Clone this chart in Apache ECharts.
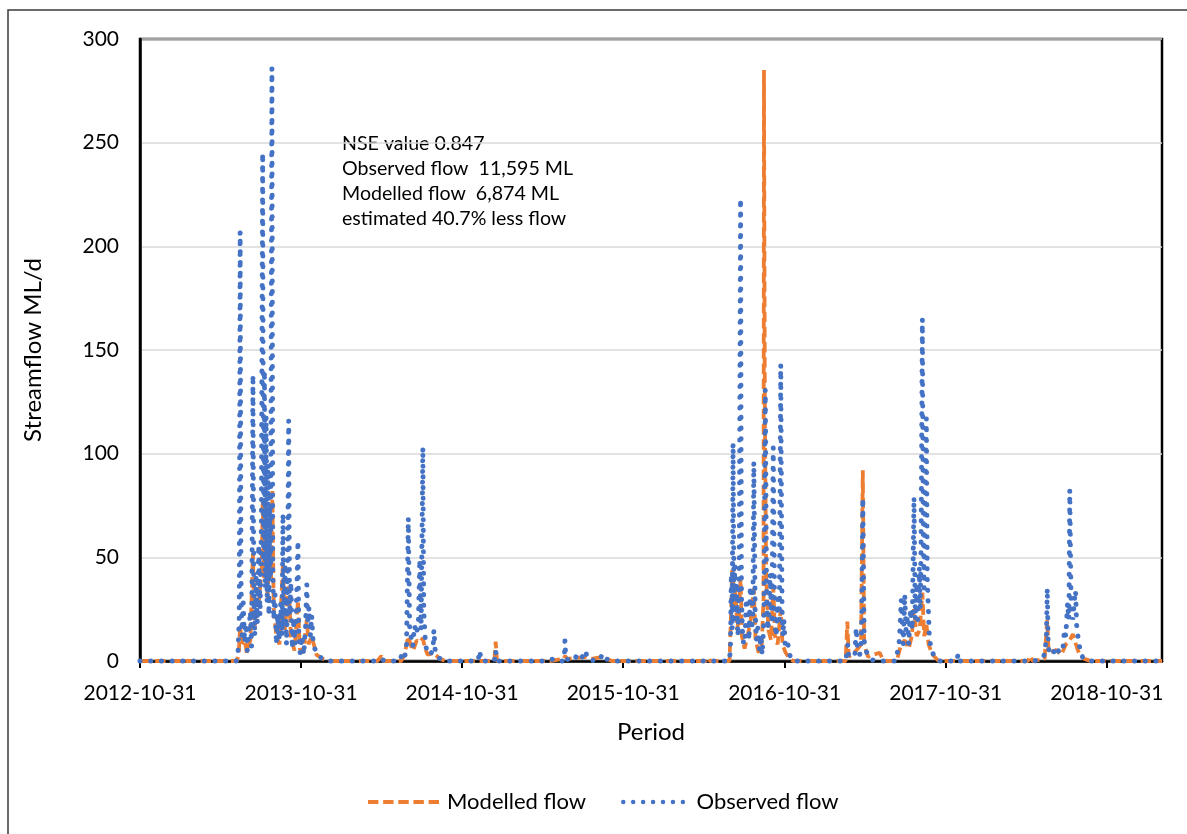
<!DOCTYPE html>
<html><head><meta charset="utf-8">
<script src="https://cdn.jsdelivr.net/npm/echarts@6/dist/echarts.min.js"></script>
<style>html,body{margin:0;padding:0;background:#fff}#c{width:1187px;height:834px}</style>
</head><body><div id="c"></div>
<script>
// ---- data ----
const tickLabels = ['2012-10-31','2013-10-31','2014-10-31','2015-10-31','2016-10-31','2017-10-31','2018-10-31'];
const axisStart = '2012-10-31';
const axisEnd = '2019-03-05';

const obsDates = [
 '2012-10-31','2013-06-06','2013-06-10','2013-06-13','2013-06-15','2013-06-17','2013-06-19','2013-06-22','2013-06-25','2013-06-28',
 '2013-07-01','2013-07-04','2013-07-08','2013-07-11','2013-07-14','2013-07-16','2013-07-18','2013-07-21','2013-07-24','2013-07-27','2013-07-30',
 '2013-08-02','2013-08-05','2013-08-07','2013-08-09','2013-08-11','2013-08-13','2013-08-15','2013-08-17','2013-08-19','2013-08-21','2013-08-23','2013-08-26','2013-08-28','2013-08-30',
 '2013-09-02','2013-09-05','2013-09-08','2013-09-11','2013-09-15','2013-09-18','2013-09-20','2013-09-22','2013-09-25','2013-09-28','2013-09-30',
 '2013-10-03','2013-10-05','2013-10-08','2013-10-11','2013-10-14','2013-10-17','2013-10-20','2013-10-24','2013-10-26','2013-10-29',
 '2013-11-02','2013-11-06','2013-11-10','2013-11-13','2013-11-15','2013-11-18','2013-11-21','2013-11-24','2013-11-27','2013-12-01','2013-12-08','2013-12-18','2013-12-31',
 '2014-04-25','2014-05-01','2014-05-08','2014-06-12','2014-06-16','2014-06-19','2014-06-23','2014-06-27',
 '2014-07-01','2014-07-04','2014-07-07','2014-07-11','2014-07-15','2014-07-20','2014-07-24','2014-07-27','2014-07-30',
 '2014-08-03','2014-08-05','2014-08-09','2014-08-13','2014-08-19','2014-08-26','2014-08-28','2014-08-31','2014-09-05','2014-09-12','2014-09-22',
 '2014-12-06','2014-12-10','2014-12-13','2015-01-12','2015-01-15','2015-01-18',
 '2015-05-15','2015-05-25','2015-05-30','2015-06-18','2015-06-20','2015-06-21','2015-06-23','2015-07-10','2015-07-16','2015-07-22',
 '2015-08-03','2015-08-07','2015-08-10','2015-08-18','2015-08-25','2015-09-10','2015-09-13','2015-09-17','2015-09-22','2015-10-07',
 '2016-06-27','2016-06-30','2016-07-02','2016-07-04','2016-07-06','2016-07-08','2016-07-10','2016-07-12','2016-07-14','2016-07-17','2016-07-20','2016-07-23','2016-07-25','2016-07-27','2016-07-30',
 '2016-08-02','2016-08-05','2016-08-08','2016-08-11','2016-08-14','2016-08-17','2016-08-20','2016-08-22','2016-08-25','2016-08-28','2016-08-31',
 '2016-09-04','2016-09-07','2016-09-10','2016-09-14','2016-09-17','2016-09-20','2016-09-23','2016-09-25','2016-09-28',
 '2016-10-02','2016-10-05','2016-10-08','2016-10-11','2016-10-13','2016-10-16','2016-10-19','2016-10-22','2016-10-25','2016-10-27','2016-10-29',
 '2016-11-01','2016-11-04','2016-11-07','2016-11-11','2016-11-18',
 '2017-03-18','2017-03-22','2017-03-23','2017-03-25','2017-04-08','2017-04-11','2017-04-14','2017-04-19','2017-04-23','2017-04-26','2017-04-29','2017-05-03','2017-05-12','2017-05-25',
 '2017-07-10','2017-07-14','2017-07-18','2017-07-22','2017-07-25','2017-07-27','2017-07-30',
 '2017-08-02','2017-08-05','2017-08-08','2017-08-12','2017-08-16','2017-08-20','2017-08-23','2017-08-26','2017-08-28',
 '2017-09-01','2017-09-03','2017-09-05','2017-09-08','2017-09-10','2017-09-12','2017-09-14','2017-09-17','2017-09-19','2017-09-21','2017-09-24',
 '2017-10-01','2017-10-08','2017-10-17','2017-11-25','2017-11-28','2017-12-01',
 '2018-05-20','2018-06-10','2018-06-16','2018-06-18','2018-06-20','2018-06-23','2018-07-02','2018-07-08','2018-07-15','2018-07-23','2018-07-27','2018-07-30',
 '2018-08-03','2018-08-06','2018-08-08','2018-08-11','2018-08-15','2018-08-18','2018-08-21','2018-08-24','2018-08-28','2018-09-02','2018-09-10','2018-09-22','2019-03-05'
];
const obsValues = [
 0,0,3,22,207,38,12,28,9,18,
 5,12,24,7,138,32,12,42,18,56,22,
 65,245,48,140,35,118,28,95,22,75,40,286,45,20,
 32,8,22,10,28,12,71,16,45,8,28,
 116,22,38,6,18,8,22,58,10,4,
 12,3,16,37,18,26,12,22,10,6,3,1,0,
 0,1,0,0,3,4,2,8,
 69,16,12,7,17,13,20,49,15,
 103,24,8,4,3,5,15,5,2,1,0,
 0,5,0,0,5,0,
 0,1,0,0,4,10,1,0,2,0,
 3,5,1.5,1.5,0,1,3.5,3.7,1,0,
 0,5,42,15,105,30,46,20,36,12,40,223,32,15,8,
 10,30,25,10,36,15,22,96,25,10,16,
 5,12,3,20,131,30,15,22,42,
 18,103,25,12,16,30,20,143,25,12,20,
 8,10,8.5,3,0,
 0,5,8,2,3,16,5,3,10,78.5,10,5,1,0,
 0,5,10,29.5,12,8,32,
 15,22,8,25,15,79,20,35,20,
 45,25,55,165,60,35,75,117,40,28,10,
 4,1,0,0,3.4,0,
 0,2,10,35,8,3,4,7,4,5,15,12,
 28,20,82.5,25,20,28,34,15,10,3,1,0,0
];

const modDates = [
 '2012-10-31','2013-06-08','2013-06-12','2013-06-15','2013-06-18','2013-06-24','2013-06-30','2013-07-08','2013-07-14','2013-07-17','2013-07-22','2013-07-28',
 '2013-08-03','2013-08-05','2013-08-08','2013-08-12','2013-08-16','2013-08-20','2013-08-24','2013-08-27','2013-08-30',
 '2013-09-05','2013-09-12','2013-09-20','2013-09-24','2013-10-03','2013-10-08','2013-10-16','2013-10-24','2013-10-28',
 '2013-11-05','2013-11-13','2013-11-17','2013-11-24','2013-12-05','2013-12-20','2014-01-05',
 '2014-04-22','2014-05-01','2014-05-06','2014-06-15','2014-06-22','2014-07-01','2014-07-06','2014-07-12','2014-07-20','2014-07-27','2014-08-03','2014-08-08','2014-08-14','2014-08-28','2014-09-10','2014-09-25',
 '2015-01-12','2015-01-15','2015-01-18','2015-05-18','2015-06-18','2015-06-21','2015-06-26','2015-07-16','2015-08-07','2015-08-20','2015-09-15','2015-10-05',
 '2016-05-05','2016-05-10','2016-05-15','2016-06-28','2016-07-01','2016-07-04','2016-07-06','2016-07-09','2016-07-12','2016-07-15','2016-07-19','2016-07-23','2016-07-26',
 '2016-08-01','2016-08-08','2016-08-15','2016-08-22','2016-08-26','2016-09-02','2016-09-09','2016-09-13','2016-09-14','2016-09-16','2016-09-19','2016-09-24','2016-09-30',
 '2016-10-05','2016-10-09','2016-10-15','2016-10-22','2016-10-26','2016-11-02','2016-11-12','2016-11-20',
 '2017-03-18','2017-03-22','2017-03-25','2017-04-11','2017-04-22','2017-04-26','2017-04-29','2017-05-08','2017-05-20','2017-06-03','2017-06-10','2017-06-20',
 '2017-07-12','2017-07-18','2017-07-22','2017-07-30','2017-08-08','2017-08-15','2017-08-20','2017-08-26','2017-09-02','2017-09-08','2017-09-12','2017-09-17','2017-09-22','2017-10-01','2017-10-15',
 '2018-05-05','2018-05-11','2018-05-16','2018-06-12','2018-06-18','2018-06-21','2018-07-08','2018-07-20','2018-07-30','2018-08-08','2018-08-15','2018-08-22','2018-08-30','2018-09-10','2018-09-25','2019-03-05'
];
const modValues = [
 0,0,5,17,8,12,4,10,52,15,25,30,
 45,78,40,60,30,55,40,82,25,
 12,8,48,15,36,12,5,29,6,
 4,20,8,12,3,1,0,
 0,2.4,0,0,3,12,8,5,10,9,11,6,3,4,1,0,
 0,9.3,0,0,1,2.4,1,1.5,2,1,2,0,
 0,1.5,0,0,20,44,40,25,35,15,20,40,12,
 6,12,20,35,10,4,8,30,285,120,40,15,10,
 36,12,8,25,8,4,1,0,
 0,19,2,5,8,92,8,2,3,4,1,0,
 0,5,8,10,6,12,25,12,15,33,12,18,8,3,0,
 0,2.4,0,1,20,4,5.3,3,8,10,13,8,3,1,0,0
];

const annotationLines = ['NSE value 0.847','Observed flow  11,595 ML','Modelled flow  6,874 ML','estimated 40.7% less flow'];

// ---- build ----
function ts(s){const p=s.split('-');return Date.UTC(+p[0],+p[1]-1,+p[2]);}
const DAY = 86400000;
const tickValues = tickLabels.map(ts);
const obsData = obsDates.map((d,i)=>[ts(d), obsValues[i]]);
const modData = modDates.map((d,i)=>[ts(d), modValues[i]]);

function dotsPath(n, r, step){
  let p='path://';
  for(let k=0;k<n;k++){const cx=r+k*step;p+=`M${cx-r},${r}a${r},${r} 0 1,0 ${2*r},0a${r},${r} 0 1,0 ${-2*r},0z`;}
  return p;
}
function dashPath(n, len, gap, h){
  let p='path://';
  for(let k=0;k<n;k++){const x=k*(len+gap);p+=`M${x},0h${len}v${h}h${-len}z`;}
  return p;
}

const chart = echarts.init(document.getElementById('c'), null, {renderer:'canvas'});
chart.setOption({
  animation:false,
  backgroundColor:'#fff',
  textStyle:{fontFamily:'Lato'},
  grid:{left:140,right:25,top:39,bottom:173,show:true,borderColor:'#000',borderWidth:2.5,backgroundColor:'transparent'},
  xAxis:{
    type:'value', min:ts(axisStart), max:ts(axisEnd),
    name:'Period', nameLocation:'middle', nameGap:59,
    nameTextStyle:{fontSize:24,color:'#000',fontFamily:'Lato'},
    axisLine:{show:true,onZero:false,lineStyle:{color:'#000',width:2.5}},
    axisTick:{show:true,customValues:tickValues,length:7,lineStyle:{color:'#000',width:2}},
    axisLabel:{customValues:tickValues,fontSize:21,color:'#000',margin:22,fontFamily:'Lato',
      formatter:function(v){for(let i=0;i<tickValues.length;i++){if(Math.abs(tickValues[i]-v)<DAY/2)return tickLabels[i];}return '';}},
    splitLine:{show:false}
  },
  yAxis:{
    type:'value', min:0, max:300, interval:50,
    name:'Streamflow ML/d', nameLocation:'middle', nameGap:95,
    nameTextStyle:{fontSize:24,color:'#000',fontFamily:'Lato'},
    axisLine:{show:true,lineStyle:{color:'#000',width:2.5}},
    axisTick:{show:false},
    axisLabel:{fontSize:21,color:'#000',margin:21,fontFamily:'Lato'},
    splitLine:{show:true,lineStyle:{color:'#d9d9d9',width:1.5}}
  },
  legend:{
    left:363, top:786, itemWidth:71, itemHeight:4.5, itemGap:35,
    textStyle:{fontSize:22,color:'#000',fontFamily:'Lato',padding:[0,0,0,3]},
    itemStyle:{borderWidth:0},
    data:[
      {name:'Modelled flow', icon:dashPath(5,10.4,4.75,3.8)},
      {name:'Observed flow', icon:dotsPath(7,2.4,10.6)}
    ]
  },
  graphic:[
    {type:'rect', silent:true, z:-10, shape:{x:8,y:10,width:1300,height:1000}, style:{fill:'none',stroke:'#3a3a3a',lineWidth:1.5}},
    {type:'text', silent:true, x:342, y:131, style:{text:annotationLines.join('\n'), font:'19.6px Lato', fill:'#000', lineHeight:25, align:'left', verticalAlign:'top'}}
  ],
  series:[
    {name:'Modelled flow', type:'line', data:modData, showSymbol:false, symbol:'none', clip:false,
     lineStyle:{color:'#ED7D31',width:3.8,type:[10.4,4.75],cap:'butt'}, itemStyle:{color:'#ED7D31'}, emphasis:{disabled:true}},
    {name:'Observed flow', type:'line', data:obsData, showSymbol:false, symbol:'none', clip:false,
     lineStyle:{color:'#4472C4',width:5,type:[0.1,10.6],cap:'round'}, itemStyle:{color:'#4472C4'}, emphasis:{disabled:true}}
  ]
});
</script></body></html>
